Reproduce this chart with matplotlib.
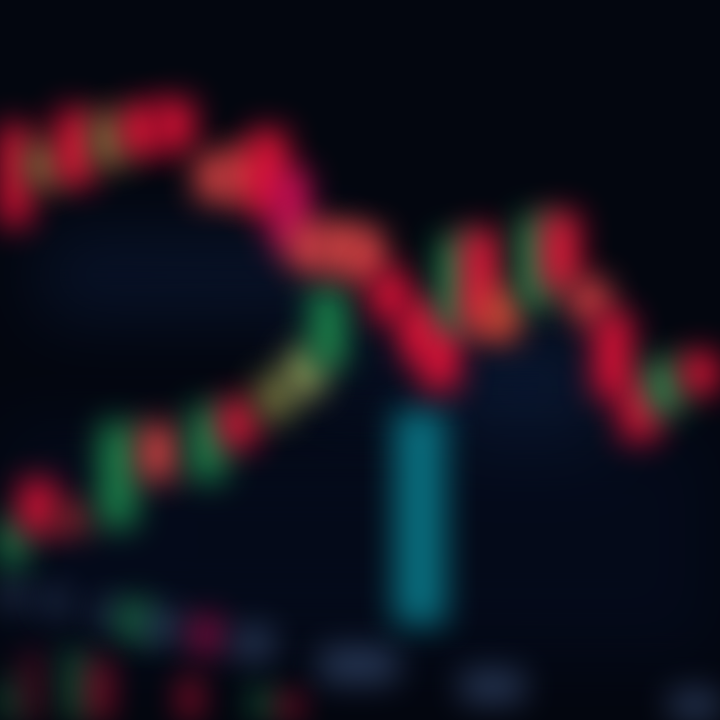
import numpy as np
import matplotlib
matplotlib.use("Agg")
import matplotlib.pyplot as plt

# upper (falling) candle series, prices
up_x = [12, 45, 75, 110, 140, 175, 215, 245, 268, 290, 310, 340, 365,
        390, 420, 440, 457, 480, 500, 537, 560, 590, 613, 640, 665, 700]
up_high = [595, 575, 610, 605, 615, 620, 565, 570, 590, 550, 495, 495, 490,
           450, 420, 400, 483, 490, 430, 503, 507, 440, 407, 340, 360, 367]
up_low = [495, 535, 535, 555, 565, 570, 520, 520, 505, 470, 450, 450, 440,
          400, 360, 330, 390, 390, 380, 413, 430, 400, 323, 280, 307, 327]
up_tone = ["red", "olive", "red", "olive", "red", "red", "coral", "coral",
           "red", "magenta", "coral", "coral", "coral", "red", "red", "red",
           "green", "red", "orange", "green", "red", "coral", "red", "red",
           "green", "red"]

# lower (rising) candle series
lo_x = [8, 38, 72, 118, 158, 208, 238, 275, 305, 328, 420]
lo_high = [200, 240, 215, 297, 295, 313, 320, 345, 370, 433, 310]
lo_low = [155, 187, 187, 193, 240, 240, 273, 300, 325, 353, 95]
lo_tone = ["green", "red", "brown", "green", "coral", "green", "red",
           "olive", "yellow", "green", "teal"]

# volume bars along the bottom
vol_x = [8, 32, 75, 100, 190, 262, 290]
vol_h = [40, 67, 70, 60, 43, 33, 27]
vol_tone = ["green", "darkred", "green", "red", "red", "green", "red"]

# faint price-scale blobs
lab_x = [10, 55, 107, 135, 163, 206, 253, 358, 492, 700]
lab_lo = [113, 107, 93, 80, 77, 67, 60, 37, 17, 0]
lab_hi = [140, 130, 120, 120, 110, 103, 93, 73, 50, 30]
lab_w = [30, 25, 22, 30, 35, 27, 40, 77, 63, 60]
lab_tone = ["slate", "slate", "slate", "green", "slate", "magenta", "slate",
            "slate", "slate", "slate"]

TONES = {
    "red": "#f0123a", "coral": "#e84848", "magenta": "#d0105a",
    "orange": "#d85038", "olive": "#7a7a40", "green": "#1f9050",
    "yellow": "#a0a860", "teal": "#0a7080", "brown": "#a02a30",
    "darkred": "#80102a", "slate": "#34486c",
}


def _box(a, r, axis):
    a = np.moveaxis(a, axis, 0)
    pad = [(r + 1, r)] + [(0, 0)] * (a.ndim - 1)
    c = np.cumsum(np.pad(a, pad), axis=0)
    out = (c[2 * r + 1:] - c[:-(2 * r + 1)]) / (2 * r + 1)
    return np.moveaxis(out, 0, axis)


class Blur:
    def __init__(self, sigma):
        self.sigma = sigma

    def __call__(self, im, dpi):
        s = self.sigma * dpi / 100.0
        r = max(1, int(round(s)))
        pad = 4 * r
        im = np.pad(im, ((pad, pad), (pad, pad), (0, 0)))
        pm = im.copy()
        pm[..., :3] *= pm[..., 3:4]
        for _ in range(3):
            pm = _box(pm, r, 0)
            pm = _box(pm, r, 1)
        a = pm[..., 3:4]
        pm[..., :3] = np.where(a > 1e-4, pm[..., :3] / np.maximum(a, 1e-4), 0)
        return np.clip(pm, 0, 1), -pad, -pad


fig = plt.figure(figsize=(7.2, 7.2), dpi=100, facecolor="#03060f")
ax = fig.add_axes([0, 0, 1, 1], facecolor="#03060f")
ax.set_xlim(0, 720)
ax.set_ylim(0, 720)
ax.axis("off")

# background haze
haze = [(40, 340, 400, 490, "#0c1c3a"), (440, 610, 260, 400, "#0f2244"),
        (0, 720, 60, 300, "#060e22"), (300, 460, 300, 420, "#08142c")]
for x0, x1, y0, y1, c in haze:
    p = ax.bar((x0 + x1) / 2, y1 - y0, bottom=y0, width=x1 - x0, color=c,
               alpha=0.6, linewidth=0)
    for patch in p:
        patch.set_agg_filter(Blur(34))


def candles(xs, hi, lo, tones, width, sigma, alpha=1.0):
    bars = ax.bar(xs, np.subtract(hi, lo), bottom=lo, width=width,
                  color=[TONES[t] for t in tones], linewidth=0, alpha=alpha)
    for patch in bars:
        patch.set_agg_filter(Blur(sigma))
    return bars


candles(lab_x, lab_hi, lab_lo, lab_tone, lab_w, 15, 0.75)
candles(vol_x, vol_h, [0] * len(vol_x), vol_tone, 22, 14, 0.55)

lo_w = [34] * (len(lo_x) - 1) + [52]
candles(lo_x, lo_high, lo_low, lo_tone, lo_w, 15)
candles(up_x, up_high, up_low, up_tone, 36, 15)

fig.savefig("out.png", dpi=100, facecolor=fig.get_facecolor())
